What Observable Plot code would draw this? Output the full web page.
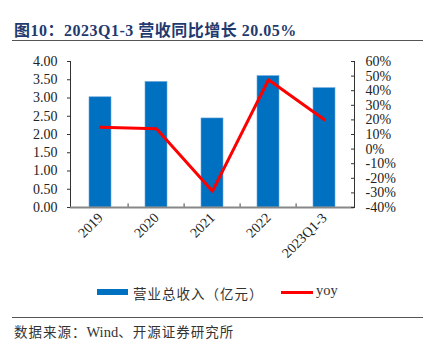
<!DOCTYPE html>
<html><head><meta charset="utf-8">
<script src="https://cdn.jsdelivr.net/npm/d3@7"></script>
<script src="https://cdn.jsdelivr.net/npm/@observablehq/plot@0.6"></script>
<style>
body{margin:0;background:#fff;}
#wrap{position:relative;width:433px;height:350px;overflow:hidden;background:#fff;font-family:"Times New Roman","Liberation Serif","Noto Sans CJK SC",serif;}
#title{position:absolute;left:14px;top:17px;font-size:16px;font-weight:bold;color:#1f3a6e;white-space:nowrap;letter-spacing:0.5px;}
.hr{position:absolute;left:12px;width:411px;height:1px;background:#555;}
#chart{position:absolute;left:0;top:45px;}
#legend{position:absolute;top:284px;left:0;width:433px;height:18px;font-size:13.5px;color:#333;}
#source{position:absolute;left:14px;top:321px;font-size:13.5px;color:#333;white-space:nowrap;}
.sp{letter-spacing:1px;}
</style></head>
<body>
<div id="wrap">
  <div id="title">图10：2023Q1-3 营收同比增长 20.05%</div>
  <div class="hr" style="top:40px"></div>
  <div id="chart"></div>
  <div id="legend">
    <div style="position:absolute;left:97px;top:5px;width:31px;height:6px;background:#0070C0"></div>
    <div style="position:absolute;left:133px;top:-1px;white-space:nowrap;letter-spacing:1px">营业总收入（亿元）</div>
    <div style="position:absolute;left:281px;top:7px;width:32px;height:2.5px;background:#ff0000"></div>
    <div style="position:absolute;left:316px;top:-2px;white-space:nowrap;font-size:14.5px">yoy</div>
  </div>
  <div class="hr" style="top:317px"></div>
  <div id="source"><span class="sp">数据来源：</span><span style="font-size:14.5px">Wind</span><span class="sp">、开源证券研究所</span></div>
</div>
<script>
const categories = ["2019", "2020", "2021", "2022", "2023Q1-3"];
const revenue = [3.02, 3.44, 2.44, 3.60, 3.27];
const yoy = [15.0, 13.9, -28.8, 47.5, 20.05];
const leftTicks = [0, 0.5, 1, 1.5, 2, 2.5, 3, 3.5, 4];
const rightTicks = [-40, -30, -20, -10, 0, 10, 20, 30, 40, 50, 60];

const toLeft = p => (p + 40) / 25;   // map % axis onto revenue axis
const barData = categories.map((c, i) => ({cat: c, v: revenue[i]}));
const lineData = categories.map((c, i) => ({cat: c, v: toLeft(yoy[i])}));

const W = 433, H = 230, ML = 70, MR = 79, MT = 16, MB = 68;
const step = (W - ML - MR) / categories.length;
const font = '"Times New Roman","Liberation Serif",serif';

const chart = Plot.plot({
  width: W, height: H,
  marginLeft: ML, marginRight: MR, marginTop: MT, marginBottom: MB,
  style: {fontFamily: font, fontSize: "14px", color: "#222", background: "transparent"},
  x: {type: "band", domain: categories, paddingInner: 0.6, paddingOuter: 0.3, axis: null, label: null},
  y: {domain: [0, 4], axis: null, label: null},
  marks: [
    Plot.barY(barData, {x: "cat", y: "v", fill: "#0070C0", stroke: "#6fa8dc", strokeWidth: 0.6}),
    Plot.line(lineData, {x: "cat", y: "v", stroke: "#ff0000", strokeWidth: 3}),
    Plot.ruleX(categories.slice(1), {x: d => d, dx: -step / 2, y1: 0, y2: 0.1, stroke: "#444"}),
    Plot.frame({anchor: "left", stroke: "#333"}),
    Plot.frame({anchor: "right", stroke: "#333"}),
    Plot.ruleY([0], {stroke: "#888", strokeWidth: 2}),
    Plot.axisY({anchor: "left", label: null, ticks: leftTicks, tickFormat: d => d.toFixed(2), tickSize: 3, tickPadding: 10, fontSize: 14, stroke: "#333"}),
    Plot.axisY({anchor: "right", label: null, ticks: rightTicks.map(toLeft), tickFormat: d => Math.round(d * 25 - 40) + "%", tickSize: 4, dx: -4, tickPadding: 11, fontSize: 14, stroke: "#333"}),
    Plot.axisX({anchor: "bottom", label: null, tickSize: 0, tickRotate: -45, tickPadding: 8, fontSize: 14})
  ]
});
document.getElementById("chart").appendChild(chart);
</script>
</body></html>
